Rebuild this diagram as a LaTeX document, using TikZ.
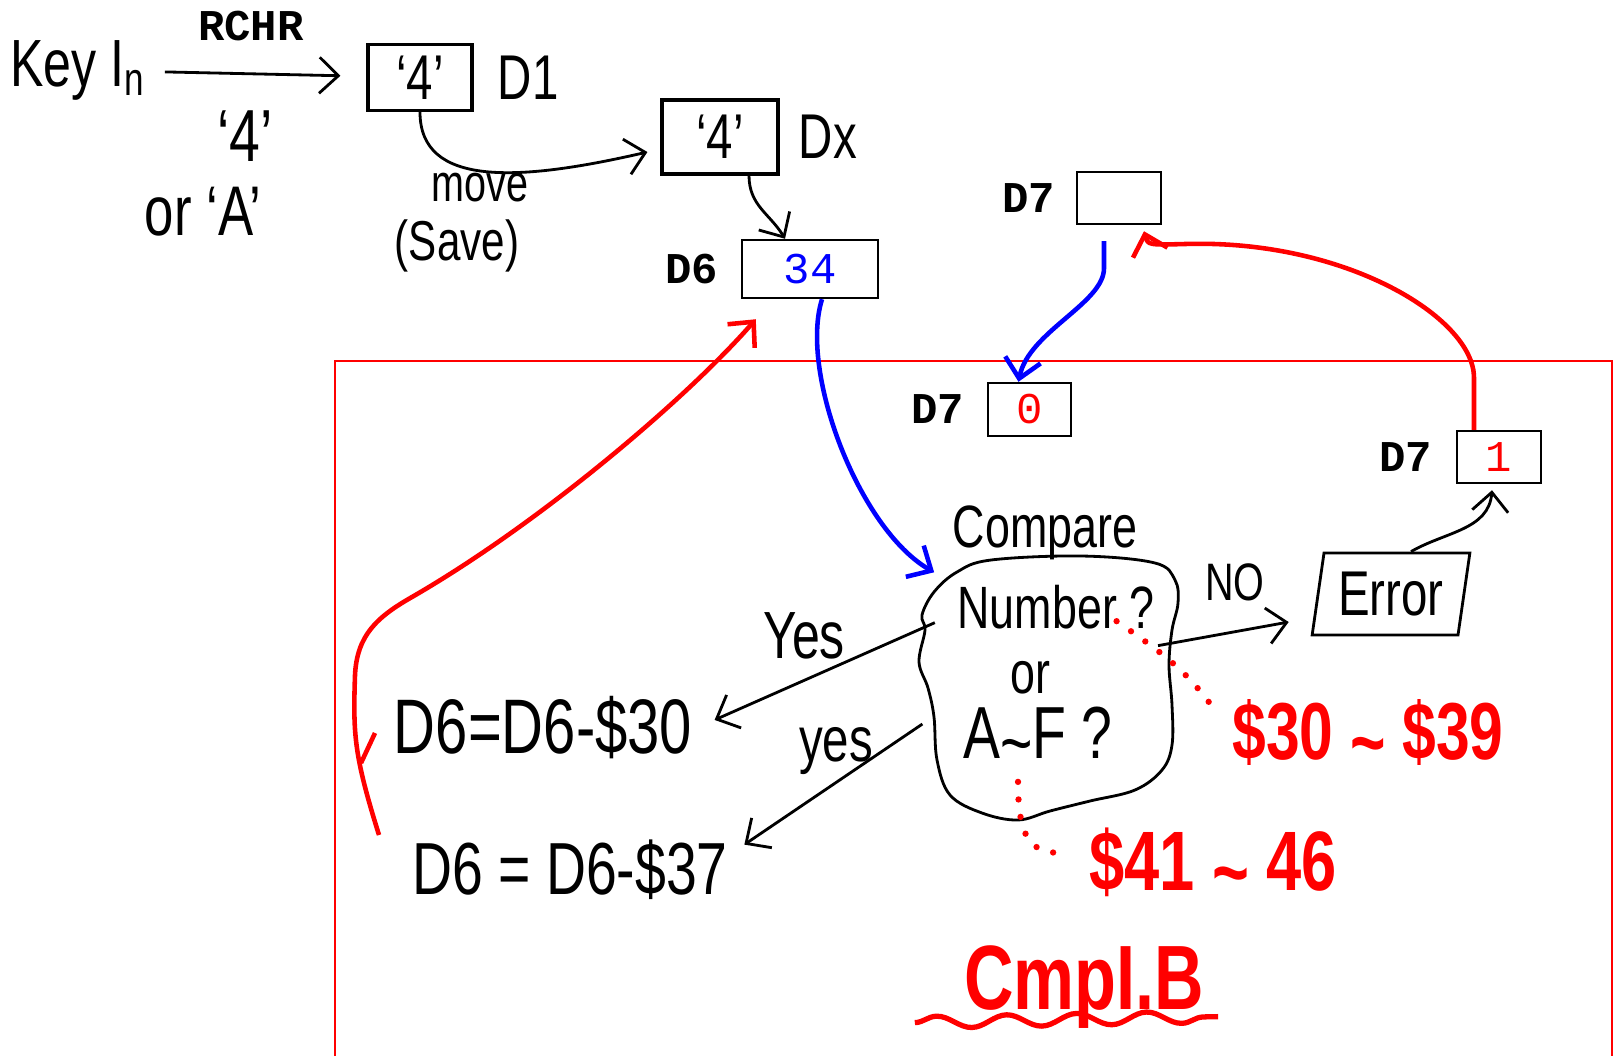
\documentclass[tikz,border=0pt]{standalone}
\usepackage{fontspec}
\usepackage{tikz}
\usetikzlibrary{calc,positioning,arrows.meta,shapes.geometric,decorations.pathmorphing}
\newfontfamily\handfont[FakeStretch=0.75]{Liberation Sans}
\newfontfamily\monofont{Liberation Mono}
\newcommand\fsz[1]{\fontsize{#1}{#1}\selectfont}
\newcommand\tld{\raisebox{-0.25ex}{\textasciitilde}}
\tikzset{
  cell/.style={rectangle,draw=black,line width=0.7pt,inner sep=0pt,font=\monofont\fsz{12.5}},
  reg/.style={inner sep=0pt,font=\monofont\bfseries\fsz{12.5}},
  handtxt/.style={inner sep=1pt,font=\handfont\fsz{#1}},
  handtxt/.default=17,
  redtxt/.style={inner sep=1pt,text=red,font=\handfont\bfseries\fsz{#1}},
  sketchbox/.style={rectangle,draw=black,line width=0.9pt,inner sep=0pt,font=\handfont\fsz{18}},
  wire/.style={-{Straight Barb[length=1.9mm,width=3.6mm]},line width=0.8pt,black},
  bluewire/.style={wire,blue,line width=1.3pt},
  redwire/.style={wire,red,line width=1.3pt},
  dotlink/.style={red,line width=1.8pt,line cap=round,dash pattern=on 0pt off 5pt},
}
\begin{document}
\begin{tikzpicture}
  \useasboundingbox (0,0) rectangle (16.14,-10.56);
  \draw[red,line width=0.6pt] (3.35,-10.56) -- (3.35,-3.61) -- (16.12,-3.61) -- (16.12,-10.56);
  % key input
  \node[handtxt=19] (keyin) at (0.78,-0.70) {Key I\textsubscript{n}};
  \node[reg] (rchr) at (2.51,-0.26) {RCHR};
  \node[sketchbox,minimum width=1.04cm,minimum height=0.66cm] (d1box) at (4.20,-0.775) {‘4’};
  \node[handtxt=18,right=2mm of d1box] (d1) {D1};
  \node[handtxt=21] (q4) at (2.45,-1.36) {‘4’};
  \node[handtxt=20] (ora) at (2.03,-2.12) {or ‘A’};
  \node[sketchbox,minimum width=1.16cm,minimum height=0.74cm] (dxbox) at (7.20,-1.37) {‘4’};
  \node[handtxt=18,right=1.5mm of dxbox] (dx) {Dx};
  \node[handtxt=15] (move) at (4.80,-1.88) {move};
  \node[handtxt=16] (save) at (4.57,-2.46) {(Save)};
  \draw[wire,shorten <=1.5mm,shorten >=2.6mm] (keyin) -- (d1box);
  \draw[wire] (d1box.south) .. controls +(0,-0.75) and +(-1.3,-0.3) .. ([xshift=-1.3mm,yshift=-1.5mm]dxbox.west);
  % registers
  \node[cell,minimum width=1.36cm,minimum height=0.58cm,text=blue] (d6box) at (8.10,-2.69) {34};
  \node[reg,left=2.2mm of d6box] (d6) {D6};
  \node[cell,minimum width=0.84cm,minimum height=0.52cm] (d7a) at (11.19,-1.98) {};
  \node[reg,left=2mm of d7a] (d7alab) {D7};
  \node[cell,minimum width=0.83cm,minimum height=0.53cm,text=red] (d7b) at (10.295,-4.095) {0};
  \node[reg,left=2.2mm of d7b] (d7blab) {D7};
  \node[cell,minimum width=0.84cm,minimum height=0.52cm,text=red] (d7c) at (14.99,-4.57) {1};
  \node[reg,left=2.3mm of d7c] (d7clab) {D7};
  \draw[wire] ([xshift=2.9mm]dxbox.south) .. controls +(0,-0.3) and +(-0.15,0.25) .. ([xshift=-2.5mm]d6box.north);
  % compare cloud
  \node[handtxt=17] (compare) at (10.45,-5.33) {Compare};
  \node[circle,minimum size=2.6cm,inner sep=0pt] (cmp) at (10.48,-6.88) {};
  \draw[line width=0.8pt] plot[smooth cycle,tension=0.6] coordinates {(9.91,-5.60) (10.82,-5.56) (11.55,-5.63) (11.75,-5.80) (11.78,-6.03) (11.72,-6.30) (11.69,-6.65) (11.72,-7.05) (11.72,-7.45) (11.62,-7.70) (11.35,-7.90) (10.90,-8.01) (10.50,-8.11) (10.18,-8.20) (9.82,-8.13) (9.50,-7.95) (9.37,-7.60) (9.34,-7.17) (9.28,-6.88) (9.19,-6.62) (9.25,-6.30) (9.22,-6.15) (9.34,-5.92) (9.57,-5.72)};
  \node[handtxt=17] (number) at (10.56,-6.07) {Number ?};
  \node[handtxt=17] (orr) at (10.30,-6.78) {or};
  \node[handtxt=21] (atof) at (10.38,-7.38) {A\tld F ?};
  \node[handtxt=19] (yes1) at (8.04,-6.36) {Yes};
  \node[handtxt=18] (yes2) at (8.36,-7.51) {yes};
  \node[handtxt=22] (sub30) at (5.43,-7.28) {D6=D6-\$30};
  \node[handtxt=21] (sub37) at (5.70,-8.70) {D6 = D6-\$37};
  \node[handtxt=15] (no) at (12.35,-5.82) {NO};
  \node[trapezium,draw,line width=0.8pt,trapezium left angle=79,trapezium right angle=101,trapezium stretches=true,minimum width=1.58cm,minimum height=0.82cm,handtxt=18] (err) at (13.91,-5.94) {Error};
  \draw[wire,shorten >=2mm] (cmp.150) -- (sub30.east);
  \draw[wire,shorten >=1.5mm] (cmp.196) -- ([yshift=1.7mm]sub37.east);
  \draw[wire,shorten <=-1.3mm] (cmp.20) -- ([xshift=-2.8mm,yshift=-2.8mm]err.west);
  \draw[wire] ([xshift=2mm]err.north) to[out=30,in=-95] ([xshift=-0.7mm,yshift=-0.6mm]d7c.south);
  % data flow
  \draw[bluewire] ([xshift=1.2mm]d6box.south) .. controls +(-0.23,-0.73) and +(-0.75,0.43) .. ([xshift=-1.45mm,yshift=-0.8mm]compare.south west);
  \draw[bluewire] ([xshift=-1.5mm,yshift=-1.6mm]d7a.south) -- ++(0,-0.27) .. controls +(0,-0.35) and +(0.1,0.5) .. ([xshift=-1.1mm]d7b.north);
  \draw[redwire] ([xshift=-2.5mm]d7c.north) -- ++(0,0.52) .. controls +(0,0.6) and +(1.6,0.05) .. (11.85,-2.44) .. controls (11.48,-2.45) .. ([xshift=2.5mm,yshift=-0.6mm]d7a.south);
  \coordinate (loopstart) at (3.79,-8.35);
  \draw[redwire] (loopstart) .. controls +(-0.25,0.8) and +(-0.02,-0.6) .. (3.55,-6.75) .. controls +(0.02,0.4) and +(-0.35,-0.2) .. (4.12,-5.97) .. controls +(1.3,0.75) and +(-0.67,-0.77) .. ([xshift=1.5mm,yshift=-2mm]d6box.south west);
  \draw[red,line width=1.3pt] (3.61,-7.63) -- (3.75,-7.33);
  % ranges
  \node[redtxt=23] (r3039) at (13.68,-7.35) {\$30 \tld\ \$39};
  \node[redtxt=24] (r4146) at (12.13,-8.65) {\$41 \tld\ 46};
  \draw[dotlink] ([xshift=-4.2mm,yshift=1.2mm]number.south east) to[out=-35,in=125] ([xshift=-1.2mm,yshift=2.3mm]r3039.west);
  \draw[dotlink] ([xshift=-2mm,yshift=-0.9mm]atof.south) .. controls +(0,-0.6) and +(-0.3,0) .. ([xshift=-2.2mm,yshift=1.2mm]r4146.west);
  \node[redtxt=26] (cmpi) at (10.84,-9.87) {CmpI.B};
  \draw[red,line width=1.5pt,decorate,decoration={snake,amplitude=0.6mm,segment length=7mm}] ([xshift=-4.5mm,yshift=1mm]cmpi.south west) -- ([xshift=1mm,yshift=1.6mm]cmpi.south east);
\end{tikzpicture}
\end{document}
